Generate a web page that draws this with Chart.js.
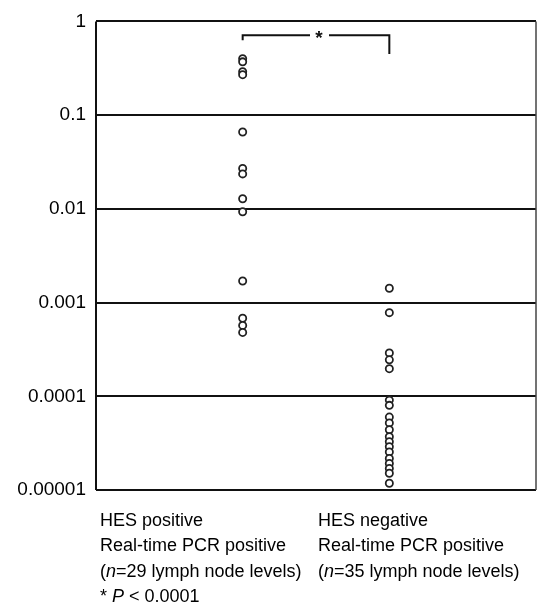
<!DOCTYPE html>
<html>
<head>
<meta charset="utf-8">
<script src="https://cdn.jsdelivr.net/npm/chart.js@4"></script>
<style>
  html, body { margin: 0; padding: 0; background: #fff; }
  #wrap { width: 537px; height: 604px; }
</style>
</head>
<body>
<div id="wrap"><canvas id="grafico"></canvas></div>
<script>
// valores (escala log)
const grupos = ['HES positive', 'HES negative'];
const hesPositivo = [0.40, 0.37, 0.29, 0.27, 0.066, 0.027, 0.0236, 0.0128, 0.0093,
  0.0017, 0.00068, 0.00057, 0.00048];
const hesNegativo = [0.00142, 0.00078, 0.00029, 0.000245, 0.000197, 0.000091, 0.00008,
  0.00006, 0.000052, 0.000044, 0.000037, 0.0000327, 0.0000289, 0.0000255,
  0.0000217, 0.0000192, 0.000017, 0.0000151, 0.0000118];
const ticksY = [1, 0.1, 0.01, 0.001, 0.0001, 0.00001];
const rotulosY = ['1', '0.1', '0.01', '0.001', '0.0001', '0.00001'];
// colchete de significância: altura da linha, fim da perna esquerda, fim da perna direita
const colchete = [0.71, 0.63, 0.45];

const fonte = '"Liberation Sans", Arial, sans-serif';

// desenha moldura, colchete com asterisco e textos de baixo
const extras = {
  id: 'extras',
  afterDraw(chart) {
    const ctx = chart.ctx;
    const area = chart.chartArea;
    const x = chart.scales.x;
    const y = chart.scales.y;
    ctx.save();

    // moldura
    ctx.strokeStyle = '#111';
    ctx.lineWidth = 2;
    ctx.beginPath();
    ctx.moveTo(area.left, area.top);
    ctx.lineTo(area.left, area.bottom);
    ctx.stroke();
    ctx.strokeStyle = '#444';
    ctx.lineWidth = 1.5;
    ctx.beginPath();
    ctx.moveTo(area.right, area.top);
    ctx.lineTo(area.right, area.bottom);
    ctx.stroke();

    // colchete
    const x1 = x.getPixelForValue(1);
    const x2 = x.getPixelForValue(2);
    const yl = y.getPixelForValue(colchete[0]);
    const meio = (x1 + x2) / 2 + 3;
    ctx.strokeStyle = '#111';
    ctx.lineWidth = 2;
    ctx.beginPath();
    ctx.moveTo(x1, y.getPixelForValue(colchete[1]));
    ctx.lineTo(x1, yl);
    ctx.lineTo(meio - 9, yl);
    ctx.moveTo(meio + 10, yl);
    ctx.lineTo(x2, yl);
    ctx.lineTo(x2, y.getPixelForValue(colchete[2]));
    ctx.stroke();
    ctx.fillStyle = '#111';
    ctx.font = 'bold 19px ' + fonte;
    ctx.textAlign = 'center';
    ctx.textBaseline = 'middle';
    ctx.fillText('*', meio, yl + 3);

    // textos das categorias
    ctx.font = '18px ' + fonte;
    ctx.textAlign = 'left';
    ctx.fillStyle = '#000';
    const colunas = [area.left + 4, 318];
    const tam = [29, 35];
    colunas.forEach((cx, i) => {
      ctx.fillText(grupos[i], cx, 521);
      ctx.fillText('Real-time PCR positive', cx, 546);
      let px = cx;
      ctx.fillText('(', px, 572);
      px += ctx.measureText('(').width;
      ctx.font = 'italic 18px ' + fonte;
      ctx.fillText('n', px, 572);
      px += ctx.measureText('n').width;
      ctx.font = '18px ' + fonte;
      ctx.fillText('=' + tam[i] + ' lymph node levels)', px, 572);
    });
    let px = area.left + 4;
    ctx.fillText('* ', px, 597);
    px += ctx.measureText('* ').width;
    ctx.font = 'italic 18px ' + fonte;
    ctx.fillText('P', px, 597);
    px += ctx.measureText('P').width;
    ctx.font = '18px ' + fonte;
    ctx.fillText(' < 0.0001', px, 597);

    ctx.restore();
  }
};

const pontos = (valores, pos) => valores.map(v => ({ x: pos, y: v }));

const estiloPonto = {
  pointRadius: 3.6,
  pointHoverRadius: 3.6,
  pointBackgroundColor: '#fff',
  pointBorderColor: '#222',
  pointBorderWidth: 1.8,
  showLine: false
};

new Chart(document.getElementById('grafico'), {
  type: 'scatter',
  data: {
    datasets: [
      { label: grupos[0], data: pontos(hesPositivo, 1), ...estiloPonto },
      { label: grupos[1], data: pontos(hesNegativo, 2), ...estiloPonto }
    ]
  },
  options: {
    responsive: true,
    maintainAspectRatio: false,
    animation: false,
    layout: { autoPadding: false, padding: { top: 20, right: 1, bottom: 114, left: 0 } },
    plugins: {
      legend: { display: false },
      tooltip: { enabled: false }
    },
    scales: {
      x: {
        type: 'linear',
        min: 0,
        max: 3,
        display: false
      },
      y: {
        type: 'logarithmic',
        min: 0.00001,
        max: 1,
        afterFit(scale) { scale.width = 96; },
        afterBuildTicks(scale) { scale.ticks = ticksY.map(v => ({ value: v })); },
        border: { display: false },
        grid: {
          color: '#111',
          lineWidth: 2,
          drawTicks: false
        },
        ticks: {
          color: '#000',
          padding: 10,
          font: { family: fonte, size: 19 },
          callback: (v) => {
            const i = ticksY.findIndex(t => Math.abs(Math.log10(t) - Math.log10(v)) < 1e-6);
            return i >= 0 ? rotulosY[i] : '';
          }
        }
      }
    }
  },
  plugins: [extras]
});
</script>
</body>
</html>
